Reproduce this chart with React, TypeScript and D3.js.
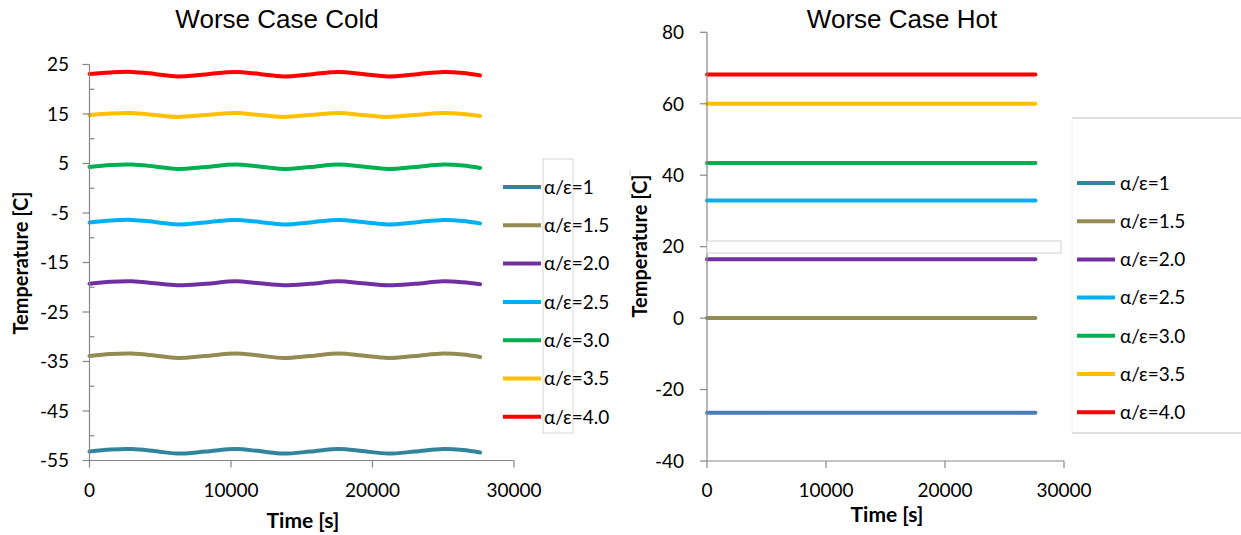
import React from 'react';
import * as d3 from 'd3';

// series labels and colours, same order for both charts
const seriesLabels = ['α/ε=1', 'α/ε=1.5', 'α/ε=2.0', 'α/ε=2.5', 'α/ε=3.0', 'α/ε=3.5', 'α/ε=4.0'];
const seriesColors = ['#31849b', '#948a54', '#7030a0', '#00b0f0', '#00b050', '#ffc000', '#ff0000'];
const hotColors = ['#4a7ebb', '#948a54', '#7030a0', '#00b0f0', '#00b050', '#ffc000', '#ff0000'];

// Worse Case Cold
const coldTime = [0, 1500, 3000, 4600, 6200, 8200, 10300, 12000, 13700, 15600, 17600, 19300, 21100, 23000, 25000, 26400, 27600];
const cold10 = [-53.2, -52.8, -52.7, -53.1, -53.6, -53.2, -52.7, -53.1, -53.6, -53.2, -52.7, -53.1, -53.6, -53.2, -52.7, -52.9, -53.4];
const cold15 = [-33.9, -33.5, -33.4, -33.8, -34.3, -33.9, -33.4, -33.8, -34.3, -33.9, -33.4, -33.8, -34.3, -33.9, -33.4, -33.6, -34.1];
const cold20 = [-19.3, -18.9, -18.8, -19.2, -19.6, -19.3, -18.8, -19.2, -19.6, -19.3, -18.8, -19.2, -19.6, -19.3, -18.8, -19.0, -19.4];
const cold25 = [-6.9, -6.5, -6.4, -6.8, -7.3, -6.9, -6.4, -6.8, -7.3, -6.9, -6.4, -6.8, -7.3, -6.9, -6.4, -6.6, -7.1];
const cold30 = [4.3, 4.7, 4.8, 4.4, 3.9, 4.3, 4.8, 4.4, 3.9, 4.3, 4.8, 4.4, 3.9, 4.3, 4.8, 4.6, 4.1];
const cold35 = [14.8, 15.1, 15.2, 14.8, 14.4, 14.8, 15.2, 14.8, 14.4, 14.8, 15.2, 14.8, 14.4, 14.8, 15.2, 15.0, 14.6];
const cold40 = [23.1, 23.4, 23.5, 23.1, 22.6, 23.0, 23.5, 23.1, 22.6, 23.0, 23.5, 23.1, 22.6, 23.0, 23.5, 23.3, 22.8];

// Worse Case Hot, flat lines
const hotTime = [0, 27600];
const hot10 = [-26.5, -26.5];
const hot15 = [0, 0];
const hot20 = [16.5, 16.5];
const hot25 = [32.9, 32.9];
const hot30 = [43.4, 43.4];
const hot35 = [60, 60];
const hot40 = [68.2, 68.2];

const xTicks = [0, 10000, 20000, 30000];
const coldYTicks = [-55, -45, -35, -25, -15, -5, 5, 15, 25];
const coldYMinor = [-50, -40, -30, -20, -10, 0, 10, 20];
const hotYTicks = [-40, -20, 0, 20, 40, 60, 80];

const coldSeries = [cold10, cold15, cold20, cold25, cold30, cold35, cold40];
const hotSeries = [hot10, hot15, hot20, hot25, hot30, hot35, hot40];

const AXIS = '#868686';
const CAL = 'Lato, "Open Sans", sans-serif';
const ARIAL = '"Liberation Sans", Arial, sans-serif';

const Panel = ({ title, titleX, time, series, colors, xRange, yDomain, yRange, yTicks, yMinor, labelX, ytitleX, ytitleY, xtitleX, xtitleY, curve }) => {
  const x = d3.scaleLinear().domain([0, 30000]).range(xRange);
  const y = d3.scaleLinear().domain(yDomain).range(yRange);
  const line = d3.line().x((d) => x(d[0])).y((d) => y(d[1])).curve(curve);
  const x0 = xRange[0];
  const yb = yRange[0];
  return (
    <g>
      <text x={titleX} y={28} textAnchor="middle" fontFamily={ARIAL} fontSize={26} fill="#000">{title}</text>
      {series.map((vals, i) => (
        <path key={i} d={line(time.map((t, j) => [t, vals[j]]))} fill="none" stroke={colors[i]} strokeWidth={4} strokeLinecap="round" />
      ))}
      <line x1={x0} x2={x0} y1={yRange[1]} y2={yb} stroke={AXIS} strokeWidth={1.2} />
      <line x1={x0} x2={xRange[1]} y1={yb} y2={yb} stroke={AXIS} strokeWidth={1.2} />
      {yTicks.map((t) => (
        <g key={t}>
          <line x1={x0 - 7} x2={x0} y1={y(t)} y2={y(t)} stroke={AXIS} strokeWidth={1.2} />
          <text x={labelX} y={y(t)} dy="0.36em" textAnchor="end" fontFamily={CAL} fontSize={19} fill="#000">{t}</text>
        </g>
      ))}
      {yMinor.map((t) => (
        <line key={t} x1={x0} x2={x0 + 5} y1={y(t)} y2={y(t)} stroke={AXIS} strokeWidth={1.2} />
      ))}
      {xTicks.map((t) => (
        <g key={t}>
          <line x1={x(t)} x2={x(t)} y1={yb} y2={yb + 7} stroke={AXIS} strokeWidth={1.2} />
          <text x={x(t)} y={497} textAnchor="middle" fontFamily={CAL} fontSize={19} fill="#000">{t}</text>
        </g>
      ))}
      <text x={xtitleX} y={xtitleY} textAnchor="middle" fontFamily={CAL} fontWeight="bold" fontSize={21} fill="#000">Time [s]</text>
      <text transform={`translate(${ytitleX},${ytitleY}) rotate(-90)`} textAnchor="middle" fontFamily={CAL} fontWeight="bold" fontSize={20} fill="#000">Temperature [C]</text>
    </g>
  );
};

const Legend = ({ colors, lineX, textX, y0, step }) => (
  <g>
    {seriesLabels.map((lab, i) => (
      <g key={lab}>
        <line x1={lineX} x2={lineX + 38} y1={y0 + i * step} y2={y0 + i * step} stroke={colors[i]} strokeWidth={4} />
        <text x={textX} y={y0 + i * step} dy="0.36em" fontFamily={CAL} fontSize={19} fill="#000">{lab}</text>
      </g>
    ))}
  </g>
);

export default function App() {
  return (
    <svg width={1241} height={535} style={{ position: 'absolute', left: 0, top: 0, background: '#fff' }}>
      <rect width={1241} height={535} fill="#fff" />
      <Panel
        title="Worse Case Cold" titleX={277} time={coldTime} series={coldSeries} colors={seriesColors}
        xRange={[89.5, 514]} yDomain={[-55, 25]} yRange={[460.5, 64.5]} yTicks={coldYTicks} yMinor={coldYMinor}
        labelX={69} ytitleX={28} ytitleY={263} xtitleX={303} xtitleY={528} curve={d3.curveCatmullRom}
      />
      <rect x={543} y={159} width={30} height={274} fill="none" stroke="#d6d6d6" strokeWidth={1} />
      <Legend colors={seriesColors} lineX={503} textX={544} y0={187} step={38.3} />
      <line x1={630} x2={630} y1={170} y2={176} stroke="#d0d0d0" />
      <line x1={630} x2={630} y1={190} y2={195} stroke="#d0d0d0" />

      <Panel
        title="Worse Case Hot" titleX={902} time={hotTime} series={hotSeries} colors={hotColors}
        xRange={[707, 1064]} yDomain={[-40, 80]} yRange={[461, 32.3]} yTicks={hotYTicks} yMinor={[]}
        labelX={684} ytitleX={647} ytitleY={246} xtitleX={887} xtitleY={522} curve={d3.curveLinear}
      />
      <rect x={707} y={241} width={354} height={12} fill="#fff" stroke="#d0d0d0" strokeWidth={1} />
      <line x1={1072} x2={1241} y1={118} y2={118} stroke="#bfbfbf" />
      <line x1={1072} x2={1241} y1={433} y2={433} stroke="#bfbfbf" />
      <line x1={1072} x2={1072} y1={118} y2={433} stroke="#f0f0f0" />
      <Legend colors={seriesColors} lineX={1077} textX={1120} y0={183} step={38.2} />
    </svg>
  );
}
